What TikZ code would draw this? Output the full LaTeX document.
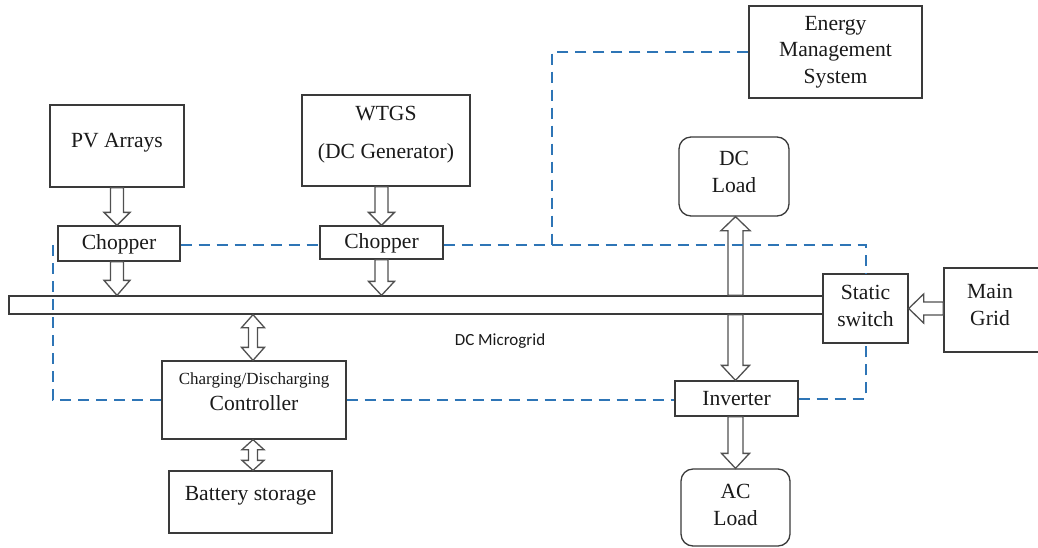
\documentclass[tikz,border=0pt]{standalone}
\usepackage{fontspec}
\setmainfont{Liberation Serif}
\newfontfamily\calfont{Carlito}
\usetikzlibrary{calc}
\definecolor{ctrlblue}{HTML}{2E75B6}
\definecolor{boxline}{HTML}{3A3A3A}
\definecolor{arrgray}{HTML}{505050}
\definecolor{txtcol}{HTML}{1A1A1A}
\tikzset{
  box/.style={draw=boxline, line width=1.3pt, inner sep=0pt, fill=white},
  rbox/.style={box, rounded corners=12pt},
  txt/.style={inner sep=0pt, align=center, text=txtcol, font=\fontsize{21.6}{26.5}\selectfont},
  smalltxt/.style={inner sep=0pt, align=center, text=txtcol, font=\fontsize{17}{20}\selectfont},
  blkarr/.style={draw=arrgray, fill=white, line width=1.3pt, line join=miter},
  ctrl/.style={draw=ctrlblue, line width=2pt, dash pattern=on 11pt off 7pt}
}
% single block arrow: #1 start, #2 tip, #3 shaft half width, #4 head half width, #5 head length
\newcommand{\blkarrow}[5]{%
  \coordinate (baH) at ($(#2)!#5!(#1)$);
  \draw[blkarr] ($(#1)!#3!90:(#2)$) -- ($(baH)!#3!-90:(#1)$) -- ($(baH)!#4!-90:(#1)$) -- (#2)
    -- ($(baH)!#4!90:(#1)$) -- ($(baH)!#3!90:(#1)$) -- ($(#1)!#3!-90:(#2)$) -- cycle;}
% double block arrow
\newcommand{\blkdarrow}[5]{%
  \coordinate (baH) at ($(#2)!#5!(#1)$);
  \coordinate (baT) at ($(#1)!#5!(#2)$);
  \draw[blkarr] (#1) -- ($(baT)!#4!90:(#2)$) -- ($(baT)!#3!90:(#2)$) -- ($(baH)!#3!-90:(#1)$)
    -- ($(baH)!#4!-90:(#1)$) -- (#2) -- ($(baH)!#4!90:(#1)$) -- ($(baH)!#3!90:(#1)$)
    -- ($(baT)!#3!-90:(#2)$) -- ($(baT)!#4!-90:(#2)$) -- cycle;}
\begin{document}
\begin{tikzpicture}[x=1pt, y=-1pt]
\useasboundingbox[fill=white] (0,0) rectangle (1038,547);

% boxes
\node[box, minimum width=134pt, minimum height=82pt] (pv) at (117,146) {};
\node[txt] (pvt) at (117,143) {PV Arrays};
\node[box, minimum width=168pt, minimum height=91pt] (wtgs) at (386,140.5) {};
\node[txt] (wtgst1) at (386,114) {WTGS};
\node[txt] (wtgst2) at (386,153) {(DC Generator)};
\node[box, minimum width=122pt, minimum height=35pt] (c1) at (119,243.5) {};
\node[txt] (c1t) at (119,244) {Chopper};
\node[box, minimum width=123pt, minimum height=33pt] (c2) at (381.5,242.5) {};
\node[txt] (c2t) at (381.5,243) {Chopper};
\node[box, minimum width=173pt, minimum height=92pt] (ems) at (835.5,52) {};
\node[txt] (emst) at (835.5,52) {Energy\\Management\\System};
\node[rbox, minimum width=110pt, minimum height=79pt] (dcl) at (734,176.5) {};
\node[txt] (dclt) at (734,172) {DC\\Load};
\node[box, minimum width=814pt, minimum height=18pt] (bus) at (416,305) {};
\node[box, minimum width=85pt, minimum height=69pt] (ss) at (865.5,308.5) {};
\node[txt] (sst) at (865.5,306) {Static\\switch};
\node[box, minimum width=100pt, minimum height=84pt] (mg) at (994,310) {};
\node[txt] (mgt) at (990,305) {Main\\Grid};
\node[inner sep=0pt, text=txtcol, font=\calfont\fontsize{17}{20}\selectfont] (dcm) at (500,341) {DC Microgrid};
\node[box, minimum width=184pt, minimum height=78pt] (ctrl) at (254,400) {};
\node[smalltxt] (ctrlt1) at (254,380) {Charging/Discharging};
\node[txt] (ctrlt2) at (254,403) {Controller};
\node[box, minimum width=163pt, minimum height=62pt] (bat) at (250.5,502) {};
\node[txt] (batt) at (250.5,496) {Battery storage};
\node[box, minimum width=123pt, minimum height=35pt] (inv) at (736.5,398.5) {};
\node[txt] (invt) at (736.5,399) {Inverter};
\node[rbox, minimum width=109pt, minimum height=77pt] (acl) at (735.5,507.5) {};
\node[txt] (aclt) at (735.5,505) {AC\\Load};

% anchor helpers
\coordinate (vx) at (735.5,0);
\coordinate (bx) at (253,0);
\coordinate (a1) at (pv.south);
\coordinate (a2) at (pv.south |- c1.north);
\coordinate (a3) at (pv.south |- c1.south);
\coordinate (a4) at (pv.south |- bus.north);
\coordinate (b1) at (c2.north |- wtgs.south);
\coordinate (b2) at (c2.north);
\coordinate (b3) at (c2.south);
\coordinate (b4) at (c2.south |- bus.north);
\coordinate (d1) at (bus.north -| vx);
\coordinate (d2) at (dcl.south -| vx);
\coordinate (d3) at (bus.south -| vx);
\coordinate (d4) at (inv.north -| vx);
\coordinate (d5) at (inv.south -| vx);
\coordinate (d6) at (acl.north -| vx);
\coordinate (e1) at (bus.south -| bx);
\coordinate (e2) at (ctrl.north -| bx);
\coordinate (e3) at (ctrl.south -| bx);
\coordinate (e4) at (bat.north -| bx);
\coordinate (g1) at (mg.west |- ss.east);
\coordinate (g2) at (ss.east);

% block arrows
\blkarrow{a1}{a2}{6.5pt}{13pt}{13pt}
\blkarrow{a3}{a4}{6.5pt}{13pt}{15pt}
\blkarrow{b1}{b2}{6.5pt}{13pt}{13pt}
\blkarrow{b3}{b4}{6.5pt}{13pt}{14pt}
\blkarrow{d1}{d2}{7.5pt}{14.5pt}{14pt}
\blkarrow{d3}{d4}{7.5pt}{14pt}{15pt}
\blkarrow{d5}{d6}{7.5pt}{14pt}{15pt}
\blkdarrow{e1}{e2}{4.5pt}{11.5pt}{13pt}
\blkdarrow{e3}{e4}{4.5pt}{11pt}{10pt}
\blkarrow{g1}{g2}{6.5pt}{14.5pt}{15pt}

% control (dashed) lines
\coordinate (j1) at (552,245);
\coordinate (l1) at (53,245);
\draw[ctrl] (ems.west) -| (j1);
\draw[ctrl] (c1.east |- j1) -- (c2.west |- j1);
\draw[ctrl] (c2.east |- j1) -| (ss.north);
\draw[ctrl] (l1) |- (ctrl.west);
\draw[ctrl] (ctrl.east) -- (ctrl.east -| inv.west);
\draw[ctrl] (inv.east) -| (ss.south);
\end{tikzpicture}
\end{document}
